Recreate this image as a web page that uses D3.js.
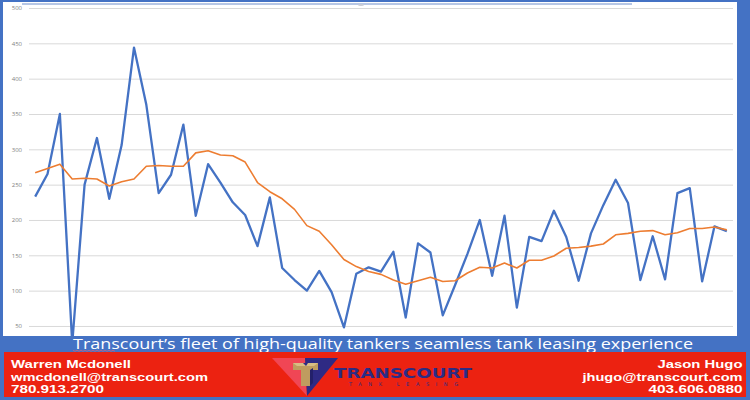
<!DOCTYPE html>
<html>
<head>
<meta charset="utf-8">
<script src="https://cdn.jsdelivr.net/npm/d3@7"></script>
<style>
html, body { margin: 0; padding: 0; background: #4472c4; }
svg { display: block; }
</style>
</head>
<body>
<svg id="chart"></svg>
<script>
const width = 750;
const height = 400;

// values
const actual = [233, 265, 350, 25, 250, 316, 230, 306, 444, 363,
	238, 264, 335, 206, 279, 253, 225, 207, 163, 232,
	132, 115, 100, 128, 98, 48, 124, 133, 127, 155,
	62, 167, 154, 65, 108, 152, 200, 121, 206, 76,
	176, 170, 213, 176, 114, 181, 221, 257, 224, 115,
	177, 116, 238, 245, 113, 191, 184];
const trend = [267, 273, 279, 258, 259, 258, 248, 254, 258, 276,
	277, 276, 276, 295, 298, 292, 291, 282, 253, 240,
	230, 215, 192, 184, 165, 144, 134, 127, 123, 115,
	109, 114, 119, 113, 114, 125, 133, 132, 139, 132,
	143, 143, 149, 160, 161, 163, 166, 179, 181, 184,
	185, 179, 182, 188, 188, 190, 186];
const yTicks = [50, 100, 150, 200, 250, 300, 350, 400, 450, 500];
const caption = "Transcourt’s fleet of high-quality tankers seamless tank leasing experience";
const leftContact = ["Warren Mcdonell", "wmcdonell@transcourt.com", "780.913.2700"];
const rightContact = ["Jason Hugo", "jhugo@transcourt.com", "403.606.0880"];

const plot = { left: 29, right: 733, top: 8, bottom: 361.3 };

const svg = d3.select("#chart").attr("width", width).attr("height", height);

// white sheet inside the blue frame
svg.append("rect").attr("x", 0).attr("y", 0).attr("width", width).attr("height", height).attr("fill", "#4472c4");
svg.append("rect").attr("x", 3).attr("y", 2).attr("width", 734).attr("height", 334).attr("fill", "#ffffff");

// thin bar left over at the top
svg.append("line")
	.attr("x1", 22).attr("x2", 632).attr("y1", 4).attr("y2", 4)
	.attr("stroke", "#9fb5dd").attr("stroke-width", 1.6);
svg.append("ellipse").attr("cx", 361).attr("cy", 5).attr("rx", 3).attr("ry", 1).attr("fill", "#c9ccd4");

const x = d3
	.scalePoint()
	.domain(d3.range(actual.length))
	.range([plot.left, plot.right])
	.padding(0.5);

const y = d3.scaleLinear().domain([0, 500]).range([plot.bottom, plot.top]);

const yAxisG = svg
	.append("g")
	.attr("transform", "translate(" + plot.left + ",0)")
	.call(d3.axisLeft(y).tickValues(yTicks).tickSize(-(plot.right - plot.left)).tickPadding(7));
yAxisG.select(".domain").remove();
yAxisG.selectAll(".tick line").attr("stroke", "#d9d9d9").attr("stroke-width", 1);
yAxisG.selectAll(".tick text")
	.attr("fill", "#7f7f7f")
	.attr("font-family", "Open Sans, sans-serif")
	.attr("font-size", "6px");

const line = d3
	.line()
	.x((d, i) => x(i))
	.y((d) => y(d));

svg.append("path")
	.datum(actual)
	.attr("fill", "none")
	.attr("stroke", "#4472c4")
	.attr("stroke-width", 2.3)
	.attr("stroke-linejoin", "round")
	.attr("d", line);

svg.append("path")
	.datum(trend)
	.attr("fill", "none")
	.attr("stroke", "#ed7d31")
	.attr("stroke-width", 1.6)
	.attr("stroke-linejoin", "round")
	.attr("d", line);

// bottom frame, caption and contact banner drawn over the chart
svg.append("rect").attr("x", 0).attr("y", 336).attr("width", width).attr("height", 64).attr("fill", "#4472c4");

svg.append("text")
	.attr("x", 73)
	.attr("y", 348.5)
	.attr("fill", "#ffffff")
	.attr("font-family", "Open Sans, sans-serif")
	.attr("font-size", "14px")
	.attr("textLength", 620)
	.attr("lengthAdjust", "spacingAndGlyphs")
	.text(caption);

svg.append("path")
	.attr("d", d3.range(0, 44, 2).map((k, i) => (i ? "L" : "M") + (73 + k) + "," + (350.5 + (i % 2 ? 0.8 : -0.2))).join(""))
	.attr("fill", "none")
	.attr("stroke", "#e06070")
	.attr("stroke-width", 0.7);

svg.append("rect").attr("x", 4).attr("y", 352).attr("width", 742).attr("height", 45).attr("fill", "#ec2211");

const contactFont = { family: "Liberation Sans, Arial, sans-serif", size: "11px" };
const leftWidths = [120, 197, 93];
const rightWidths = [85, 160, 94];
const baselines = [368, 380.5, 392.5];

leftContact.forEach((t, i) => {
	svg.append("text")
		.attr("x", 11)
		.attr("y", baselines[i])
		.attr("fill", "#ffffff")
		.attr("font-family", contactFont.family)
		.attr("font-size", contactFont.size)
		.attr("font-weight", "bold")
		.attr("textLength", leftWidths[i])
		.attr("lengthAdjust", "spacingAndGlyphs")
		.text(t);
});

rightContact.forEach((t, i) => {
	svg.append("text")
		.attr("x", 742.5 - rightWidths[i])
		.attr("y", baselines[i])
		.attr("fill", "#ffffff")
		.attr("font-family", contactFont.family)
		.attr("font-size", contactFont.size)
		.attr("font-weight", "bold")
		.attr("textLength", rightWidths[i])
		.attr("lengthAdjust", "spacingAndGlyphs")
		.text(t);
});

// logo
const logo = svg.append("g");
logo.append("path").attr("d", "M272,358 L305,358 L307,396 Z").attr("fill", "#f04655");
logo.append("path").attr("d", "M305,358 L338,358 L307,396 Z").attr("fill", "#2e2a84");
logo.append("path").attr("d", "M293,363 L318,363 L318,370 L310,370 L310,386 L301,386 L301,370 L293,370 Z").attr("fill", "#bf9c5f");
logo.append("path").attr("d", "M293,363 L318,363 L314,366 L297,366 Z").attr("fill", "#d9bd84");
logo.append("path").attr("d", "M310,370 L313,368 L313,383 L310,386 Z").attr("fill", "#23206a");
logo.append("path").attr("d", "M303,363 L308,363 L306,366 Z").attr("fill", "#2e2a84");

logo.append("text")
	.attr("x", 334)
	.attr("y", 377.5)
	.attr("fill", "#2b2c85")
	.attr("font-family", "DejaVu Sans, sans-serif")
	.attr("font-size", "13.5px")
	.attr("font-weight", "bold")
	.attr("textLength", 138)
	.attr("lengthAdjust", "spacingAndGlyphs")
	.text("TRANSCOURT");

logo.append("text")
	.attr("x", 349)
	.attr("y", 386)
	.attr("fill", "#2b2c85")
	.attr("font-family", "DejaVu Sans, sans-serif")
	.attr("font-size", "5px")
	.attr("textLength", 109)
	.attr("lengthAdjust", "spacing")
	.text("TANK LEASING");
</script>
</body>
</html>
